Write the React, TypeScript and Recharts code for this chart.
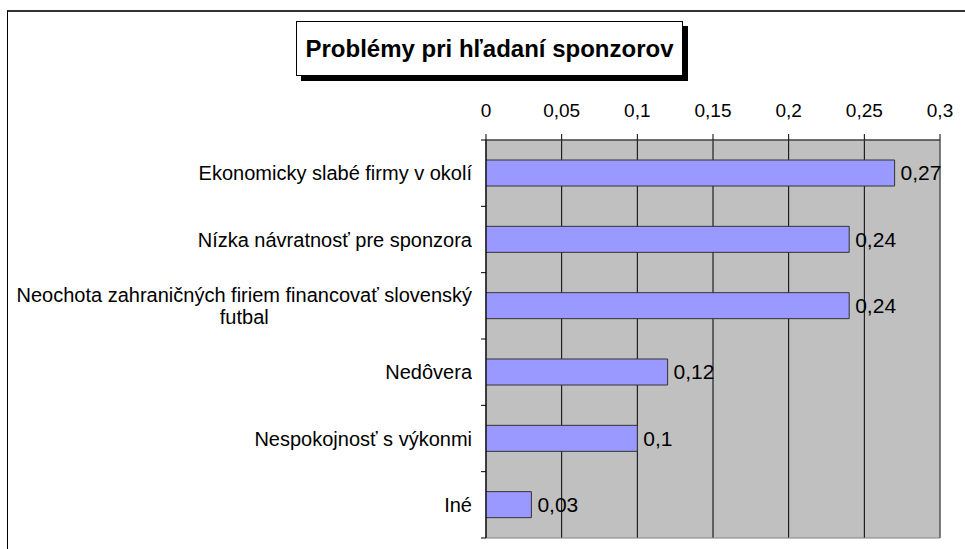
import { BarChart, Bar, XAxis, YAxis, CartesianGrid, LabelList, ReferenceArea } from "recharts"

const FONT = "Arial, 'Liberation Sans', sans-serif"

const TITLE = "Problémy pri hľadaní sponzorov"

// categories as printed on the axis (top to bottom)
const categories = [
  "Ekonomicky slabé firmy v okolí",
  "Nízka návratnosť pre sponzora",
  "Neochota zahraničných firiem financovať slovenský\nfutbal",
  "Nedôvera",
  "Nespokojnosť s výkonmi",
  "Iné",
]

const shares = [0.27, 0.24, 0.24, 0.12, 0.1, 0.03]

const xTicks = [0, 0.05, 0.1, 0.15, 0.2, 0.25, 0.3]

const data = categories.map((name, i) => ({ name, value: shares[i] }))

const comma = (v: number | string) => String(v).replace(".", ",")

function CategoryTick(props: any) {
  const { x, y, payload, index, visibleTicksCount } = props
  const half = payload?.offset ?? 33.2
  return (
    <g>
      {/* Excel-style ticks sit between categories */}
      <line x1={x - 5} x2={x} y1={y - half} y2={y - half} stroke="#000" />
      {index === visibleTicksCount - 1 && (
        <line x1={x - 5} x2={x} y1={y + half} y2={y + half} stroke="#000" />
      )}
      <foreignObject x={0} y={y - 30} width={x - 14} height={60}>
        <div
          style={{
            width: "100%",
            height: "100%",
            display: "flex",
            alignItems: "center",
            justifyContent: "flex-end",
          }}
        >
          <span
            style={{
              textAlign: "center",
              whiteSpace: "pre-line",
              fontSize: 20,
              lineHeight: "22px",
              fontFamily: FONT,
              color: "#000",
            }}
          >
            {payload.value}
          </span>
        </div>
      </foreignObject>
    </g>
  )
}

export default function App() {
  return (
    <div
      style={{
        position: "fixed",
        top: 0,
        left: 0,
        width: 965,
        height: 549,
        overflow: "hidden",
        background: "#fff",
      }}
    >
      {/* outer chart frame, cut off at right and bottom */}
      <div
        style={{
          position: "absolute",
          left: 7,
          top: 10,
          width: 1000,
          height: 600,
          borderTop: "2px solid #333",
          borderLeft: "1px solid #000",
        }}
      />
      <BarChart
        width={965}
        height={549}
        data={data}
        layout="vertical"
        margin={{ top: 100, right: 25, bottom: 11, left: 0 }}
        style={{ position: "absolute", left: 0, top: 0 }}
      >
        <CartesianGrid horizontal={false} stroke="#000" fill="#C0C0C0" fillOpacity={1} />
        <XAxis
          type="number"
          orientation="top"
          domain={[0, 0.3]}
          ticks={xTicks}
          height={40}
          tickSize={6}
          tickMargin={17}
          tickFormatter={comma}
          axisLine={{ stroke: "#222" }}
          tickLine={{ stroke: "#000" }}
          tick={{ fill: "#000", fontSize: 19, fontFamily: FONT }}
          allowDataOverflow
        />
        <YAxis
          type="category"
          dataKey="name"
          width={486}
          tickSize={0}
          tickMargin={0}
          tickLine={false}
          axisLine={{ stroke: "#000" }}
          tick={<CategoryTick />}
          interval={0}
        />
        <ReferenceArea x1={0} x2={0.3} fill="none" stroke="#808080" ifOverflow="visible" />
        <Bar
          dataKey="value"
          barSize={26}
          fill="#9999FF"
          stroke="#333"
          strokeWidth={1}
          isAnimationActive={false}
        >
          <LabelList
            dataKey="value"
            position="right"
            offset={6}
            formatter={comma}
            fill="#000"
            fontSize={21}
            fontFamily={FONT}
          />
        </Bar>
      </BarChart>
      {/* title box with hard shadow */}
      <div
        style={{
          position: "absolute",
          left: 296,
          top: 21,
          width: 385,
          height: 53,
          border: "1px solid #000",
          boxShadow: "5px 5px 0 #000",
          background: "#fff",
          display: "flex",
          alignItems: "center",
          justifyContent: "center",
          fontFamily: FONT,
          fontWeight: "bold",
          fontSize: 24,
          color: "#000",
        }}
      >
        {TITLE}
      </div>
    </div>
  )
}
